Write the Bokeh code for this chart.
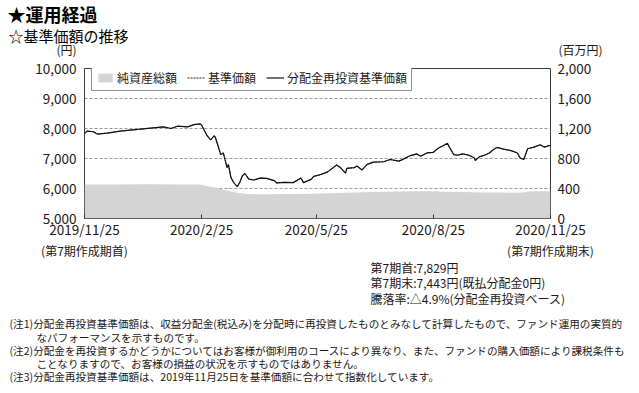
from bokeh.plotting import figure
from bokeh.layouts import column
from bokeh.models import (Range1d, LinearAxis, FixedTicker, NumeralTickFormatter,
                          Label, Legend, LegendItem)
from bokeh.embed import file_html
from bokeh.resources import INLINE

# ---------------- data ----------------
tick_days = [0, 92, 182, 274, 366]
tick_labels = ["2019/11/25", "2020/2/25", "2020/5/25", "2020/8/25", "2020/11/25"]
left_ticks = [5000, 6000, 7000, 8000, 9000, 10000]
right_ticks = [0, 400, 800, 1200, 1600, 2000]

# days since 2019/11/25
nav_days = [0, 2, 7, 10, 18, 28, 44, 54, 62, 68, 73, 81, 86, 91, 92, 96, 99, 102, 103,
            107, 109, 112, 113, 115, 117, 120, 122, 124, 126, 129, 133, 138, 143, 149,
            151, 157, 164, 170, 172, 178, 180, 185, 191, 198, 201, 205, 206, 212, 214,
            218, 222, 227, 235, 240, 247, 251, 256, 261, 264, 269, 274, 278, 282, 285,
            287, 290, 293, 297, 302, 306, 307, 310, 314, 318, 321, 324, 329, 335, 340,
            342, 345, 348, 353, 358, 361, 366]
reinvest_nav = [7829, 7913, 7891, 7815, 7848, 7913, 7978, 8022, 8054, 8000, 8076, 8054,
                8130, 8152, 8109, 7783, 7620, 7761, 7674, 7130, 7185, 6696, 6804, 6370,
                6207, 6065, 6207, 6424, 6500, 6315, 6283, 6348, 6337, 6261, 6185, 6207,
                6196, 6348, 6196, 6304, 6402, 6457, 6554, 6783, 6696, 6511, 6674, 6696,
                6750, 6620, 6804, 6880, 6891, 6967, 6913, 6989, 7098, 7152, 7076, 7185,
                7207, 7348, 7435, 7511, 7348, 7130, 7109, 7152, 7109, 7022, 6935, 7054,
                7109, 7185, 7293, 7370, 7315, 7261, 7185, 7022, 6967, 7326, 7380, 7457,
                7380, 7443]
# no distributions paid -> the base price coincides with the reinvested line
base_nav = reinvest_nav

asset_days = [0, 23, 49, 75, 91, 94, 99, 104, 109, 115, 120, 128, 143, 159, 180, 206,
              232, 259, 272, 285, 298, 311, 324, 337, 345, 350, 366]
net_assets = [452, 452, 457, 452, 452, 439, 422, 409, 383, 361, 343, 326, 322, 326, 330,
              343, 357, 365, 365, 357, 352, 348, 348, 343, 348, 365, 365]

FONT = "Noto Sans CJK JP"
TXT = "#231815"
W = 639
H_TOP, H_CHART, H_BOT = 58, 183, 152


def text_panel(y0, h):
    f = figure(width=W, height=h, output_backend="svg", toolbar_location=None,
               x_range=Range1d(0, W), y_range=Range1d(y0 + h, y0),
               x_axis_location=None, y_axis_location=None,
               min_border=0, min_border_left=0, min_border_right=0,
               min_border_top=0, min_border_bottom=0, frame_align=False,
               background_fill_color="white", border_fill_color="white")
    f.outline_line_color = None
    f.grid.visible = False
    return f


def lab(f, text, X, Y, size, align="left", bold=False, color=TXT):
    f.add_layout(Label(x=X, y=Y, text=text, text_font=FONT, text_font_size=f"{size}px",
                       text_align=align, text_baseline="middle", text_color=color,
                       text_font_style="bold" if bold else "normal"))


# ---------------- header ----------------
top = text_panel(0, H_TOP)
lab(top, "★運用経過", 7, 13, 18, bold=True, color="#000")
lab(top, "☆基準価額の推移", 8, 35, 15, color="#000")
lab(top, "(円)", 76, 49, 12, align="right")
lab(top, "(百万円)", 558, 49, 12)

# ---------------- chart ----------------
p = figure(width=W, height=H_CHART, output_backend="svg", toolbar_location=None,
           x_range=Range1d(0, 366), y_range=Range1d(5000, 10000),
           min_border_left=84, min_border_right=89, min_border_top=10,
           min_border_bottom=20, frame_align=False, background_fill_color="white",
           border_fill_color="white")
p.extra_y_ranges = {"assets": Range1d(0, 2000)}

area = p.varea(x=asset_days, y1=0, y2=net_assets, y_range_name="assets",
               fill_color="#d4d4d4", fill_alpha=1)
dot = p.line(nav_days, base_nav, line_color="#222", line_width=1, line_dash="2 1")
solid = p.line(nav_days, reinvest_nav, line_color="#111", line_width=1.2)

xa = p.xaxis[0]
xa.ticker = FixedTicker(ticks=tick_days)
xa.major_label_overrides = {d: t for d, t in zip(tick_days, tick_labels)}
xa.axis_line_color = None
xa.major_tick_in = 4
xa.major_tick_out = 0
xa.major_tick_line_color = "#333"
xa.minor_tick_line_color = None
xa.major_label_standoff = 0
xa.major_label_text_font = FONT
xa.major_label_text_font_size = "13.5px"
xa.major_label_text_color = TXT

ya = p.yaxis[0]
ya.ticker = FixedTicker(ticks=left_ticks)
ya.formatter = NumeralTickFormatter(format="0,0")
ya.axis_line_color = None
ya.major_tick_in = 0
ya.major_tick_out = 0
ya.minor_tick_line_color = None
ya.major_label_standoff = 8
ya.major_label_text_font = FONT
ya.major_label_text_font_size = "13.5px"
ya.major_label_text_color = TXT

ra = LinearAxis(y_range_name="assets", ticker=FixedTicker(ticks=right_ticks),
                formatter=NumeralTickFormatter(format="0,0"))
ra.axis_line_color = None
ra.major_tick_in = 0
ra.major_tick_out = 0
ra.minor_tick_line_color = None
ra.major_label_standoff = 7
ra.major_label_text_font = FONT
ra.major_label_text_font_size = "13.5px"
ra.major_label_text_color = TXT
p.add_layout(ra, "right")

p.xgrid.grid_line_color = None
p.ygrid.ticker = FixedTicker(ticks=[6000, 7000, 8000, 9000])
p.ygrid.grid_line_color = "#999999"
p.ygrid.grid_line_dash = "3 2"
p.ygrid.grid_line_width = 1

p.outline_line_color = "#3a3a3a"
p.outline_line_width = 1

legend = Legend(items=[LegendItem(label="純資産総額", renderers=[area]),
                       LegendItem(label="基準価額", renderers=[dot]),
                       LegendItem(label="分配金再投資基準価額", renderers=[solid])],
                orientation="horizontal", location=(7, 127),
                glyph_width=18, glyph_height=11, label_height=12, label_standoff=3,
                spacing=10, padding=4, margin=0,
                label_text_font=FONT, label_text_font_size="12px",
                label_text_color=TXT, border_line_color="#222", border_line_width=1,
                background_fill_color="white", background_fill_alpha=1)
p.add_layout(legend, "center")

# ---------------- footer ----------------
y0 = H_TOP + H_CHART
bot = text_panel(y0, H_BOT)
lab(bot, "(第7期作成期首)", 84, 250, 12, align="center")
lab(bot, "(第7期作成期末)", 550, 250, 12, align="center")
lab(bot, "第7期首:7,829円", 370, 267, 12)
lab(bot, "第7期末:7,443円(既払分配金0円)", 370, 282, 12)
lab(bot, "騰落率:△4.9%(分配金再投資ベース)", 370, 298, 12)
notes = [
    ("(注1)分配金再投資基準価額は、収益分配金(税込み)を分配時に再投資したものとみなして計算したもので、ファンド運用の実質的", 9, 323),
    ("なパフォーマンスを示すものです。", 36, 337),
    ("(注2)分配金を再投資するかどうかについてはお客様が御利用のコースにより異なり、また、ファンドの購入価額により課税条件も", 9, 350),
    ("ことなりますので、お客様の損益の状況を示すものではありません。", 36, 363),
    ("(注3)分配金再投資基準価額は、2019年11月25日を基準価額に合わせて指数化しています。", 9, 376),
]
for t, X, Y in notes:
    lab(bot, t, X, Y, 10.6)

layout = column(top, p, bot, spacing=0)
open("out.html", "w").write(file_html(layout, INLINE))
